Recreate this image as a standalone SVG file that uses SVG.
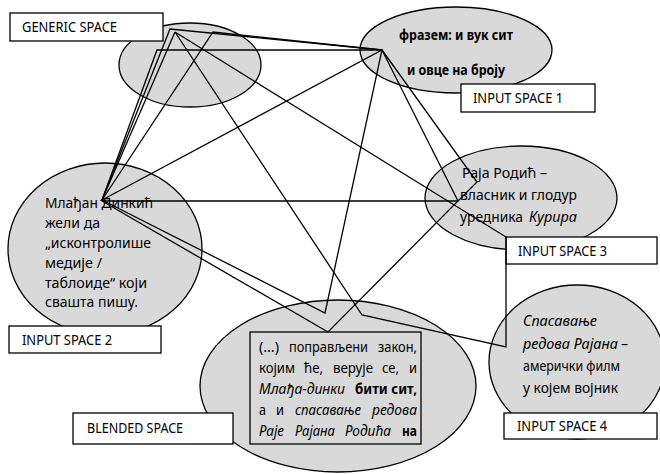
<svg xmlns="http://www.w3.org/2000/svg" width="660" height="474" viewBox="0 0 660 474">
<style>
.ell{fill:#d9d9d9;stroke:#000;stroke-width:1.3}
.box{fill:#fff;stroke:#000;stroke-width:1.3}
.frame{fill:none;stroke:#000;stroke-width:1.3}
.t{font-family:"Noto Sans","Liberation Sans",sans-serif;font-size:14px;fill:#000}
.b{font-weight:bold}
.i{font-style:italic}
.con{fill:none;stroke:#000;stroke-width:1.3;stroke-linejoin:miter}
</style>
<g id="generic">
<ellipse class="ell" cx="190" cy="65" rx="71" ry="42"/>
<rect class="box" x="10" y="13" width="153" height="28"/>
<text class="t" x="22" y="32" textLength="95" lengthAdjust="spacingAndGlyphs">GENERIC SPACE</text>
</g>
<g id="input1">
<ellipse class="ell" cx="456" cy="50" rx="96" ry="43"/>
<text class="t b" x="399" y="40" textLength="114" lengthAdjust="spacingAndGlyphs">фразем: и вук сит</text>
<text class="t b" x="407" y="75" textLength="98" lengthAdjust="spacingAndGlyphs">и овце на броју</text>
<rect class="box" x="461" y="84" width="134" height="28"/>
<text class="t" x="473" y="103" textLength="90" lengthAdjust="spacingAndGlyphs">INPUT SPACE 1</text>
</g>
<g id="input2">
<ellipse class="ell" cx="105" cy="249" rx="97" ry="86"/>
<text class="t" x="45" y="208" textLength="108" lengthAdjust="spacingAndGlyphs">Млађан Динкић</text>
<text class="t" x="45" y="228" textLength="55" lengthAdjust="spacingAndGlyphs">жели да</text>
<text class="t" x="45" y="248" textLength="106" lengthAdjust="spacingAndGlyphs">„исконтролише</text>
<text class="t" x="45" y="268" textLength="57" lengthAdjust="spacingAndGlyphs">медије /</text>
<text class="t" x="45" y="288" textLength="102" lengthAdjust="spacingAndGlyphs">таблоиде“ који</text>
<text class="t" x="45" y="307" textLength="93" lengthAdjust="spacingAndGlyphs">свашта пишу.</text>
<rect class="box" x="9" y="326" width="152" height="27"/>
<text class="t" x="22" y="345" textLength="90" lengthAdjust="spacingAndGlyphs">INPUT SPACE 2</text>
</g>
<g id="input3">
<ellipse class="ell" cx="521" cy="198" rx="96" ry="52"/>
<text class="t" x="462" y="178" textLength="85" lengthAdjust="spacingAndGlyphs">Раја Родић –</text>
<text class="t" x="460" y="200" textLength="117" lengthAdjust="spacingAndGlyphs">власник и глодур</text>
<text class="t" x="460" y="222" textLength="63" lengthAdjust="spacingAndGlyphs">уредника</text>
<text class="t i" x="529" y="222" textLength="48" lengthAdjust="spacingAndGlyphs">Курира</text>
<rect class="box" x="506" y="237" width="151" height="27"/>
<text class="t" x="518" y="256" textLength="89" lengthAdjust="spacingAndGlyphs">INPUT SPACE 3</text>
</g>
<g id="input4">
<ellipse class="ell" cx="577" cy="362" rx="88" ry="77"/>
<text class="t i" x="523" y="326" textLength="74" lengthAdjust="spacingAndGlyphs">Спасавање</text>
<text class="t i" x="523" y="349" textLength="95" lengthAdjust="spacingAndGlyphs">редова Рајана</text>
<text class="t" x="621" y="349">–</text>
<text class="t" x="523" y="371" textLength="97" lengthAdjust="spacingAndGlyphs">амерички филм</text>
<text class="t" x="523" y="393" textLength="95" lengthAdjust="spacingAndGlyphs">у којем војник</text>
<rect class="box" x="504" y="413" width="153" height="26"/>
<text class="t" x="517" y="431" textLength="90" lengthAdjust="spacingAndGlyphs">INPUT SPACE 4</text>
</g>
<g id="blended">
<ellipse class="ell" cx="338" cy="386" rx="138" ry="86"/>
<rect class="frame" x="250" y="332" width="171" height="112"/>
<text class="t" x="259" y="352" textLength="20" lengthAdjust="spacingAndGlyphs">(…)</text>
<text class="t" x="289" y="352" textLength="79" lengthAdjust="spacingAndGlyphs">поправљени</text>
<text class="t" x="378" y="352" textLength="39" lengthAdjust="spacingAndGlyphs">закон,</text>
<text class="t" x="259" y="373" textLength="36" lengthAdjust="spacingAndGlyphs">којим</text>
<text class="t" x="304" y="373" textLength="19" lengthAdjust="spacingAndGlyphs">ће,</text>
<text class="t" x="333" y="373" textLength="40" lengthAdjust="spacingAndGlyphs">верује</text>
<text class="t" x="382" y="373" textLength="17" lengthAdjust="spacingAndGlyphs">се,</text>
<text class="t" x="409" y="373" textLength="8" lengthAdjust="spacingAndGlyphs">и</text>
<text class="t i" x="259" y="394" textLength="86" lengthAdjust="spacingAndGlyphs">Млађа-динки</text>
<text class="t b" x="355" y="394" textLength="62" lengthAdjust="spacingAndGlyphs">бити сит,</text>
<text class="t" x="259" y="415" textLength="7" lengthAdjust="spacingAndGlyphs">а</text>
<text class="t" x="276" y="415" textLength="8" lengthAdjust="spacingAndGlyphs">и</text>
<text class="t i" x="295" y="415" textLength="66" lengthAdjust="spacingAndGlyphs">спасавање</text>
<text class="t i" x="372" y="415" textLength="45" lengthAdjust="spacingAndGlyphs">редова</text>
<text class="t i" x="259" y="436" textLength="25" lengthAdjust="spacingAndGlyphs">Раје</text>
<text class="t i" x="295" y="436" textLength="40" lengthAdjust="spacingAndGlyphs">Рајана</text>
<text class="t i" x="345" y="436" textLength="46" lengthAdjust="spacingAndGlyphs">Родића</text>
<text class="t b" x="402" y="436" textLength="15" lengthAdjust="spacingAndGlyphs">на</text>
<rect class="box" x="73" y="413" width="160" height="31"/>
<text class="t" x="87" y="433" textLength="96" lengthAdjust="spacingAndGlyphs">BLENDED SPACE</text>
</g>
<g id="connectors" class="con">
<path d="M102,200 L170,29 L382,50"/>
<path d="M102,200 L157,50 L382,50"/>
<path d="M102,200 L213,32 L382,50"/>
<path d="M102,200 L175,32"/>
<path d="M175,32 L506,237 L506,347 L362,315 Z"/>
<path d="M102,200 L382,50 L325,313 Z"/>
<path d="M102,201 L458,201 L328,332 Z"/>
<path d="M382,50 L458,201"/>
<path d="M382,50 L477,182 L458,201"/>
</g>
</svg>
